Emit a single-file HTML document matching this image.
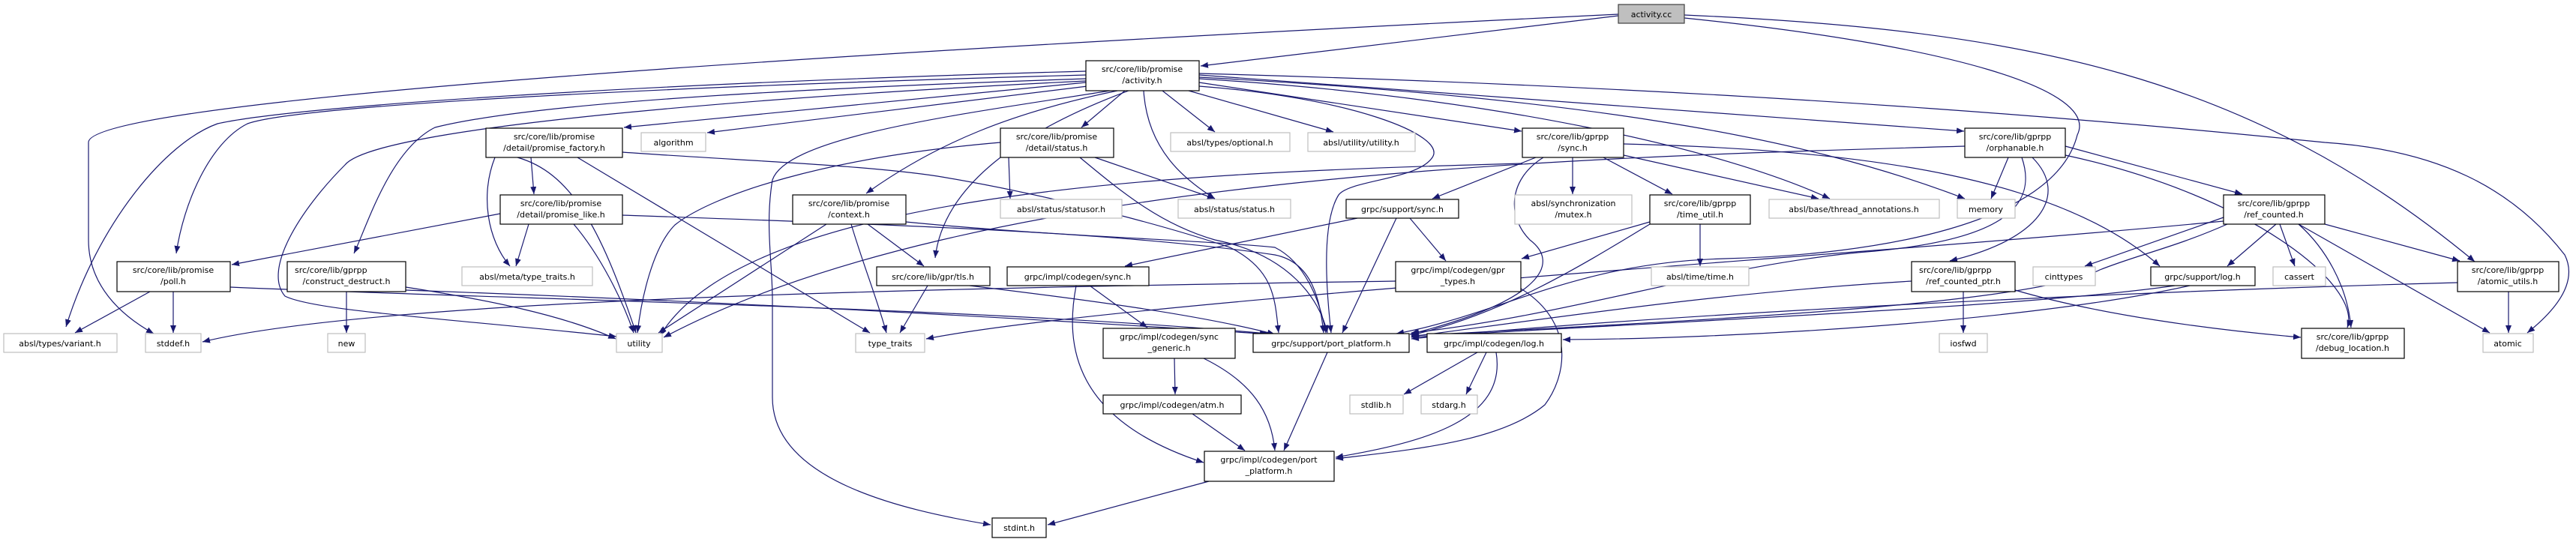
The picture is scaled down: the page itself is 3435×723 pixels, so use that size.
<!DOCTYPE html>
<html><head><meta charset="utf-8"><style>
html,body{margin:0;padding:0;background:#fff;}
svg{display:block;}
text{font-family:"DejaVu Sans","Liberation Sans",sans-serif;font-size:11px;fill:#000;}
.e{fill:none;stroke:#191970;stroke-width:1.2;marker-end:url(#a);}
.n{fill:#fff;stroke:#000;stroke-width:1.2;}
.g{fill:#fff;stroke:#bfbfbf;stroke-width:1.2;}
</style></head><body>
<svg width="3435" height="723" viewBox="0 0 3435 723" xmlns="http://www.w3.org/2000/svg">
<defs><marker id="a" markerUnits="userSpaceOnUse" markerWidth="11" markerHeight="8" refX="10" refY="4" orient="auto"><path d="M0,0 L10,4 L0,8 z" fill="#191970"/></marker></defs>
<g>
<path class="e" d="M2158 21 L1601 88"/>
<path class="e" d="M2158 19 C900 80,118 140,118 190 L118 320 C118 380,160 420,205 445"/>
<path class="e" d="M2246 20 C2700 40,3000 100,3300 349"/>
<path class="e" d="M2246 24 C2600 60,2800 120,2770 180 C2740 300,2500 340,2300 345 C2100 350,2000 420,1862 445"/>
<path class="e" d="M1448 95 C900 110,400 140,290 165 C220 190,130 300,88 436"/>
<path class="e" d="M1448 100 C900 115,400 140,330 165 C280 190,245 270,235 338"/>
<path class="e" d="M1448 105 C1000 120,700 140,580 170 C520 200,490 300,472 338"/>
<path class="e" d="M1448 108 C1000 130,500 170,460 220 C400 280,350 360,380 395 C420 415,600 425,822 449"/>
<path class="e" d="M1448 110 L832 170"/>
<path class="e" d="M1450 115 L943 177"/>
<path class="e" d="M1480 121 C1300 150,1050 180,1030 240 C1020 300,1030 350,1030 400 L1030 530 C1030 640,1200 680,1321 700"/>
<path class="e" d="M1490 121 C1350 150,1250 190,1155 258"/>
<path class="e" d="M1505 121 C1400 160,1260 230,1247 344"/>
<path class="e" d="M1500 121 L1442 170"/>
<path class="e" d="M1525 121 C1530 200,1580 240,1620 265"/>
<path class="e" d="M1550 121 L1620 176"/>
<path class="e" d="M1585 121 L1778 176"/>
<path class="e" d="M1599 115 C1800 130,1930 180,1910 210 C1890 240,1800 240,1785 260 C1760 300,1770 400,1775 444"/>
<path class="e" d="M1599 110 L2029 175"/>
<path class="e" d="M1599 105 C2000 130,2300 200,2440 265"/>
<path class="e" d="M1599 103 C2100 130,2400 180,2620 265"/>
<path class="e" d="M1599 100 L2619 175"/>
<path class="e" d="M1599 98 C2400 120,2900 170,3100 190 C3250 200,3350 250,3420 340 C3440 380,3400 420,3370 444"/>
<path class="e" d="M708 210 L712 259"/>
<path class="e" d="M770 210 L1160 444"/>
<path class="e" d="M830 203 C1000 215,1150 220,1250 235 C1400 260,1550 300,1640 330 C1700 360,1700 400,1705 444"/>
<path class="e" d="M660 210 C640 260,650 320,680 355"/>
<path class="e" d="M690 210 C760 230,800 300,848 444"/>
<path class="e" d="M667 285 L309 353"/>
<path class="e" d="M705 299 L688 355"/>
<path class="e" d="M765 299 C800 340,830 400,845 444"/>
<path class="e" d="M830 287 C1200 300,1500 310,1700 340 C1750 350,1760 400,1765 444"/>
<path class="e" d="M200 389 L100 444"/>
<path class="e" d="M231 389 L231 444"/>
<path class="e" d="M307 383 C700 400,1300 410,1690 445"/>
<path class="e" d="M462 389 L462 444"/>
<path class="e" d="M541 383 C650 400,750 420,821 452"/>
<path class="e" d="M541 387 C900 400,1300 420,1695 446"/>
<path class="e" d="M1345 210 L1347 265"/>
<path class="e" d="M1460 210 L1620 265"/>
<path class="e" d="M1334 190 C1100 210,950 260,900 300 C870 330,855 400,850 444"/>
<path class="e" d="M1440 210 C1500 260,1550 300,1620 320 C1720 340,1760 400,1770 444"/>
<path class="e" d="M1157 299 L1232 355"/>
<path class="e" d="M1135 299 C1150 350,1170 400,1182 444"/>
<path class="e" d="M1102 299 L878 444"/>
<path class="e" d="M1208 296 C1400 315,1600 320,1700 330 C1740 350,1760 400,1768 444"/>
<path class="e" d="M1237 381 L1200 444"/>
<path class="e" d="M1293 381 C1450 400,1600 420,1700 446"/>
<path class="e" d="M2048 210 L1910 265"/>
<path class="e" d="M2097 210 L2097 259"/>
<path class="e" d="M2138 210 L2230 259"/>
<path class="e" d="M2165 207 L2425 265"/>
<path class="e" d="M2058 210 C2010 240,2010 290,2040 320 C2080 350,2060 400,1880 446"/>
<path class="e" d="M2165 192 C2500 200,2750 240,2880 355"/>
<path class="e" d="M2030 218 C1600 230,1000 250,880 448"/>
<path class="e" d="M1810 291 L1500 355"/>
<path class="e" d="M1862 291 L1790 444"/>
<path class="e" d="M1880 291 L1928 348"/>
<path class="e" d="M1453 381 L1530 437"/>
<path class="e" d="M1435 381 C1420 460,1430 560,1605 617"/>
<path class="e" d="M2028 385 C2100 430,2090 500,2060 540 C2000 590,1880 600,1781 612"/>
<path class="e" d="M1861 375 C1200 385,500 400,270 456"/>
<path class="e" d="M1566 478 L1567 526"/>
<path class="e" d="M1605 478 C1670 510,1695 550,1700 601"/>
<path class="e" d="M1590 552 L1660 601"/>
<path class="e" d="M1770 470 L1712 601"/>
<path class="e" d="M1970 470 L1872 526"/>
<path class="e" d="M1982 470 L1955 526"/>
<path class="e" d="M1995 470 C2010 560,1900 590,1781 610"/>
<path class="e" d="M1612 642 L1397 700"/>
<path class="e" d="M2267 299 L2267 355"/>
<path class="e" d="M2200 299 C2100 360,2000 420,1882 447"/>
<path class="e" d="M2200 296 L2029 345"/>
<path class="e" d="M2678 210 L2655 265"/>
<path class="e" d="M2710 210 C2760 260,2720 320,2600 348"/>
<path class="e" d="M2754 195 L2990 259"/>
<path class="e" d="M2754 207 C3000 260,3150 380,3130 437"/>
<path class="e" d="M2620 195 C2100 210,1300 230,885 450"/>
<path class="e" d="M2696 210 C2720 280,2660 320,2500 335 C2300 350,2100 420,1882 444"/>
<path class="e" d="M3035 299 L2970 355"/>
<path class="e" d="M3040 299 L3060 355"/>
<path class="e" d="M3065 299 C3100 330,3130 380,3135 437"/>
<path class="e" d="M3100 299 L3280 348"/>
<path class="e" d="M3065 299 L3320 444"/>
<path class="e" d="M2965 290 L2780 355"/>
<path class="e" d="M2970 299 C2900 330,2850 340,2800 360 C2700 410,2200 430,1882 448"/>
<path class="e" d="M2965 295 C2500 340,1500 400,1235 452"/>
<path class="e" d="M2618 389 L2618 444"/>
<path class="e" d="M2549 375 C2300 390,2100 420,1882 449"/>
<path class="e" d="M2687 387 C2800 420,2950 440,3068 450"/>
<path class="e" d="M2900 381 C2700 410,2200 430,1882 450"/>
<path class="e" d="M2920 381 C2700 430,2300 452,2084 453"/>
<path class="e" d="M3345 389 L3345 444"/>
<path class="e" d="M3277 377 C2800 390,2200 420,1882 452"/>
</g>
<g>
<rect x="2158" y="6" width="88" height="25" fill="#bfbfbf" stroke="#404040" stroke-width="1.2"/>
<text x="2202" y="23" text-anchor="middle">activity.cc</text>
<rect class="n" x="1448" y="81" width="151" height="40"/>
<text x="1523" y="96" text-anchor="middle">src/core/lib/promise</text><text x="1523" y="111" text-anchor="middle">/activity.h</text>
<rect class="n" x="648" y="171" width="182" height="39"/>
<text x="739" y="186" text-anchor="middle">src/core/lib/promise</text><text x="739" y="201" text-anchor="middle">/detail/promise_factory.h</text>
<rect class="g" x="855" y="177" width="86" height="25"/><text x="898" y="194" text-anchor="middle">algorithm</text>
<rect class="n" x="1334" y="171" width="151" height="39"/>
<text x="1409" y="186" text-anchor="middle">src/core/lib/promise</text><text x="1409" y="201" text-anchor="middle">/detail/status.h</text>
<rect class="g" x="1561" y="177" width="159" height="25"/><text x="1640" y="194" text-anchor="middle">absl/types/optional.h</text>
<rect class="g" x="1744" y="177" width="143" height="25"/><text x="1815" y="194" text-anchor="middle">absl/utility/utility.h</text>
<rect class="n" x="2030" y="171" width="135" height="39"/>
<text x="2097" y="186" text-anchor="middle">src/core/lib/gprpp</text><text x="2097" y="201" text-anchor="middle">/sync.h</text>
<rect class="n" x="2620" y="171" width="134" height="39"/>
<text x="2687" y="186" text-anchor="middle">src/core/lib/gprpp</text><text x="2687" y="201" text-anchor="middle">/orphanable.h</text>
<rect class="n" x="667" y="260" width="163" height="39"/>
<text x="748" y="275" text-anchor="middle">src/core/lib/promise</text><text x="748" y="290" text-anchor="middle">/detail/promise_like.h</text>
<rect class="n" x="1057" y="260" width="151" height="39"/>
<text x="1132" y="275" text-anchor="middle">src/core/lib/promise</text><text x="1132" y="290" text-anchor="middle">/context.h</text>
<rect class="g" x="1334" y="266" width="162" height="25"/><text x="1415" y="283" text-anchor="middle">absl/status/statusor.h</text>
<rect class="g" x="1571" y="266" width="150" height="25"/><text x="1646" y="283" text-anchor="middle">absl/status/status.h</text>
<rect class="n" x="1795" y="266" width="150" height="25"/><text x="1870" y="283" text-anchor="middle">grpc/support/sync.h</text>
<rect class="g" x="2020" y="260" width="156" height="39"/>
<text x="2098" y="275" text-anchor="middle">absl/synchronization</text><text x="2098" y="290" text-anchor="middle">/mutex.h</text>
<rect class="n" x="2200" y="260" width="134" height="39"/>
<text x="2267" y="275" text-anchor="middle">src/core/lib/gprpp</text><text x="2267" y="290" text-anchor="middle">/time_util.h</text>
<rect class="g" x="2359" y="266" width="227" height="25"/><text x="2472" y="283" text-anchor="middle">absl/base/thread_annotations.h</text>
<rect class="g" x="2610" y="266" width="77" height="25"/><text x="2648" y="283" text-anchor="middle">memory</text>
<rect class="n" x="2965" y="260" width="135" height="39"/>
<text x="3032" y="275" text-anchor="middle">src/core/lib/gprpp</text><text x="3032" y="290" text-anchor="middle">/ref_counted.h</text>
<rect class="n" x="156" y="349" width="151" height="40"/>
<text x="231" y="364" text-anchor="middle">src/core/lib/promise</text><text x="231" y="379" text-anchor="middle">/poll.h</text>
<rect class="n" x="383" y="349" width="158" height="40"/>
<text x="393" y="364">src/core/lib/gprpp</text><text x="462" y="379" text-anchor="middle">/construct_destruct.h</text>
<rect class="g" x="616" y="356" width="174" height="25"/><text x="703" y="373" text-anchor="middle">absl/meta/type_traits.h</text>
<rect class="n" x="1169" y="356" width="151" height="25"/><text x="1244" y="373" text-anchor="middle">src/core/lib/gpr/tls.h</text>
<rect class="n" x="1343" y="356" width="189" height="25"/><text x="1437" y="373" text-anchor="middle">grpc/impl/codegen/sync.h</text>
<rect class="n" x="1861" y="349" width="167" height="40"/>
<text x="1944" y="364" text-anchor="middle">grpc/impl/codegen/gpr</text><text x="1944" y="379" text-anchor="middle">_types.h</text>
<rect class="g" x="2202" y="356" width="130" height="25"/><text x="2267" y="373" text-anchor="middle">absl/time/time.h</text>
<rect class="n" x="2549" y="349" width="138" height="40"/>
<text x="2559" y="364">src/core/lib/gprpp</text><text x="2618" y="379" text-anchor="middle">/ref_counted_ptr.h</text>
<rect class="g" x="2711" y="356" width="83" height="25"/><text x="2752" y="373" text-anchor="middle">cinttypes</text>
<rect class="n" x="2868" y="356" width="139" height="25"/><text x="2937" y="373" text-anchor="middle">grpc/support/log.h</text>
<rect class="g" x="3031" y="356" width="70" height="25"/><text x="3066" y="373" text-anchor="middle">cassert</text>
<rect class="n" x="3277" y="349" width="135" height="40"/>
<text x="3344" y="364" text-anchor="middle">src/core/lib/gprpp</text><text x="3344" y="379" text-anchor="middle">/atomic_utils.h</text>
<rect class="g" x="5" y="445" width="151" height="25"/><text x="80" y="462" text-anchor="middle">absl/types/variant.h</text>
<rect class="g" x="194" y="445" width="74" height="25"/><text x="231" y="462" text-anchor="middle">stddef.h</text>
<rect class="g" x="437" y="445" width="50" height="25"/><text x="462" y="462" text-anchor="middle">new</text>
<rect class="g" x="822" y="445" width="61" height="25"/><text x="852" y="462" text-anchor="middle">utility</text>
<rect class="g" x="1141" y="445" width="92" height="25"/><text x="1187" y="462" text-anchor="middle">type_traits</text>
<rect class="n" x="1471" y="438" width="176" height="40"/>
<text x="1559" y="453" text-anchor="middle">grpc/impl/codegen/sync</text><text x="1559" y="468" text-anchor="middle">_generic.h</text>
<rect class="n" x="1671" y="445" width="208" height="25"/><text x="1775" y="462" text-anchor="middle">grpc/support/port_platform.h</text>
<rect class="n" x="1903" y="445" width="179" height="25"/><text x="1992" y="462" text-anchor="middle">grpc/impl/codegen/log.h</text>
<rect class="g" x="2586" y="445" width="64" height="25"/><text x="2618" y="462" text-anchor="middle">iosfwd</text>
<rect class="n" x="3069" y="438" width="137" height="40"/>
<text x="3137" y="453" text-anchor="middle">src/core/lib/gprpp</text><text x="3137" y="468" text-anchor="middle">/debug_location.h</text>
<rect class="g" x="3311" y="445" width="67" height="25"/><text x="3344" y="462" text-anchor="middle">atomic</text>
<rect class="n" x="1471" y="527" width="184" height="25"/><text x="1563" y="544" text-anchor="middle">grpc/impl/codegen/atm.h</text>
<rect class="g" x="1800" y="527" width="71" height="25"/><text x="1835" y="544" text-anchor="middle">stdlib.h</text>
<rect class="g" x="1895" y="527" width="75" height="25"/><text x="1932" y="544" text-anchor="middle">stdarg.h</text>
<rect class="n" x="1606" y="602" width="173" height="40"/>
<text x="1692" y="617" text-anchor="middle">grpc/impl/codegen/port</text><text x="1692" y="632" text-anchor="middle">_platform.h</text>
<rect class="n" x="1323" y="691" width="72" height="26"/><text x="1359" y="708" text-anchor="middle">stdint.h</text>
</g>
</svg>
</body></html>
